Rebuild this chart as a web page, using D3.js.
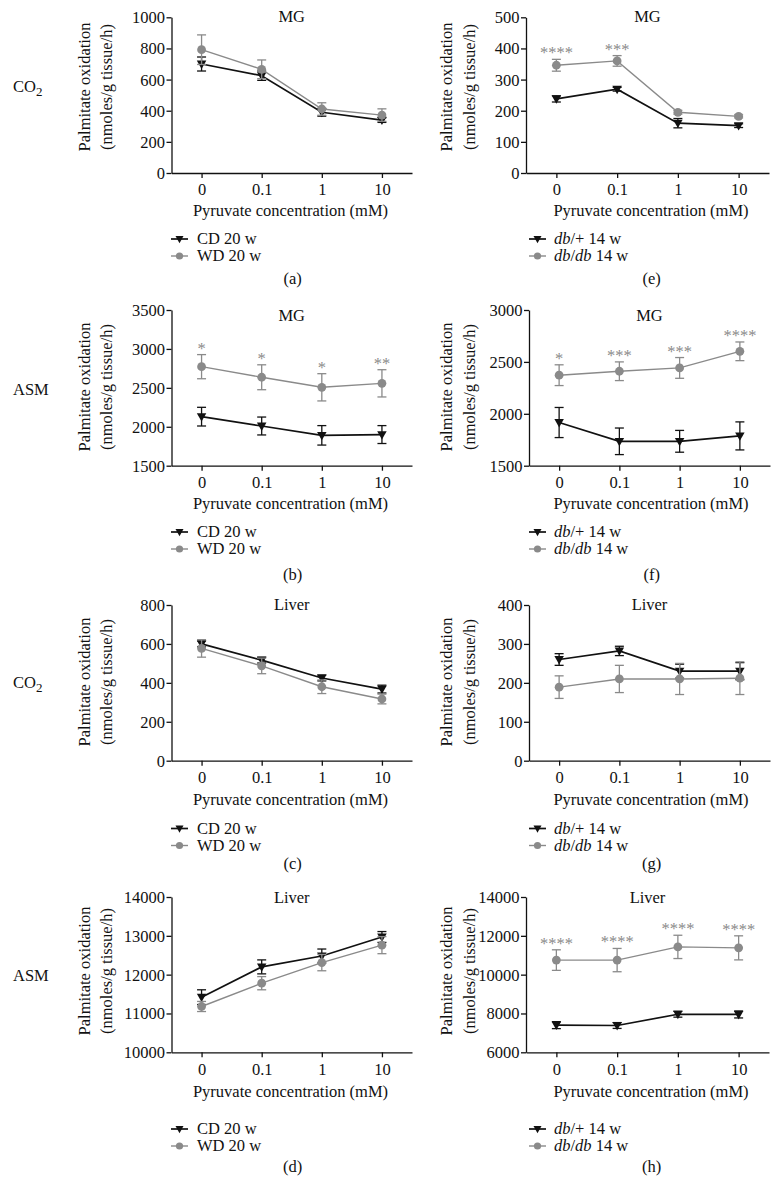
<!DOCTYPE html>
<html><head><meta charset="utf-8">
<script src="https://cdn.jsdelivr.net/npm/d3@7"></script>
<style>
body{margin:0;background:#fff}
svg{display:block}
text{font-family:"Liberation Serif","Times New Roman",serif;fill:#111}
</style>
</head><body>
<svg id="c" width="780" height="1184"></svg>
<script>
// ---------- DATA ----------
const doses = ["0", "0.1", "1", "10"];

// (a) MG CO2, diet
const aCD = [700, 625, 390, 340];      const aCDErr = [45, 30, 25, 15];
const aWD = [792, 666, 411, 372];      const aWDErr = [95, 60, 40, 40];
// (b) MG ASM, diet
const bCD = [2130, 2010, 1890, 1900];  const bCDErr = [120, 115, 125, 115];
const bWD = [2772, 2636, 2507, 2558];  const bWDErr = [155, 160, 175, 175];
const bSig = ["*", "*", "*", "**"];
// (c) Liver CO2, diet
const cCD = [600, 517, 425, 368];      const cCDErr = [15, 15, 15, 20];
const cWD = [577, 487, 380, 317];      const cWDErr = [45, 40, 35, 25];
// (d) Liver ASM, diet
const dCD = [11420, 12200, 12480, 12970]; const dCDErr = [190, 180, 180, 140];
const dWD = [11180, 11780, 12310, 12760]; const dWDErr = [130, 170, 210, 220];
// (e) MG CO2, db
const eDbH = [238, 269, 160, 152];     const eDbHErr = [10, 6, 15, 6];
const eDbDb = [346, 360, 195, 182];    const eDbDbErr = [19, 17, 6, 5];
const eSig = ["****", "***", "", ""];
// (f) MG ASM, db
const fDbH = [1916, 1735, 1735, 1787]; const fDbHErr = [145, 128, 105, 135];
const fDbDb = [2372, 2410, 2442, 2602]; const fDbDbErr = [100, 90, 100, 90];
const fSig = ["*", "***", "***", "****"];
// (g) Liver CO2, db
const gDbH = [260, 282, 230, 230];     const gDbHErr = [15, 12, 18, 22];
const gDbDb = [189, 210, 210, 212];    const gDbDbErr = [29, 35, 40, 42];
// (h) Liver ASM, db
const hDbH = [7400, 7380, 7960, 7950]; const hDbHErr = [180, 150, 150, 180];
const hDbDb = [10750, 10750, 11430, 11380]; const hDbDbErr = [530, 600, 600, 620];
const hSig = ["****", "****", "****", "****"];

// tick values
const aTicks = [0, 200, 400, 600, 800, 1000];
const bTicks = [1500, 2000, 2500, 3000, 3500];
const cTicks = [0, 200, 400, 600, 800];
const dTicks = [10000, 11000, 12000, 13000, 14000];
const eTicks = [0, 100, 200, 300, 400, 500];
const fTicks = [1500, 2000, 2500, 3000];
const gTicks = [0, 100, 200, 300, 400];
const hTicks = [6000, 8000, 10000, 12000, 14000];

const tissues = ["MG", "MG", "Liver", "Liver"];
const rowLabels = ["CO2", "ASM", "CO2", "ASM"];
const dietNames = ["CD 20 w", "WD 20 w"];
const xTitle = "Pyruvate concentration (mM)";
const yTitle1 = "Palmitate oxidation";
const yTitle2 = "(nmoles/g tissue/h)";

// ---------- LAYOUT ----------
const FS = 16.5;
const BLACK = "#111", GRAY = "#8a8a8a";
const rows = [
  {top: 17.3, bot: 173,   yl: 87,  rl: 87,  title: 17,  tick: 189.5, xt: 211.5, lg: [239, 256],   lab: 279},
  {top: 310,  bot: 465.7, yl: 387, rl: 390, title: 315.5, tick: 483, xt: 504.5, lg: [532, 549], lab: 575},
  {top: 605,  bot: 760.7, yl: 682, rl: 683, title: 604.5, tick: 778, xt: 800,   lg: [828.5, 845.5], lab: 864},
  {top: 897,  bot: 1052.3, yl: 971, rl: 976, title: 898,  tick: 1070, xt: 1092, lg: [1129, 1146],  lab: 1167}
];
const cols = [
  {yl1: 85, yl2: 107, lgx: 171, lgt: 197, labx: 292.7, xtx: 290.5},
  {yl1: 447, yl2: 470, lgx: 529, lgt: 554, labx: 651.7, xtx: 651}
];

const panels = [
  {lab: "(a)", r: 0, c: 0, x0: 171.5, x1: 412, dom: [0, 1000], ticks: aTicks, s1: aCD, e1: aCDErr, s2: aWD, e2: aWDErr, sig: null, kind: "diet"},
  {lab: "(b)", r: 1, c: 0, x0: 171.5, x1: 412, dom: [1500, 3500], ticks: bTicks, s1: bCD, e1: bCDErr, s2: bWD, e2: bWDErr, sig: bSig, kind: "diet"},
  {lab: "(c)", r: 2, c: 0, x0: 171.5, x1: 412, dom: [0, 800], ticks: cTicks, s1: cCD, e1: cCDErr, s2: cWD, e2: cWDErr, sig: null, kind: "diet"},
  {lab: "(d)", r: 3, c: 0, x0: 171.5, x1: 412, dom: [10000, 14000], ticks: dTicks, s1: dCD, e1: dCDErr, s2: dWD, e2: dWDErr, sig: null, kind: "diet"},
  {lab: "(e)", r: 0, c: 1, x0: 526, x1: 769, dom: [0, 500], ticks: eTicks, s1: eDbH, e1: eDbHErr, s2: eDbDb, e2: eDbDbErr, sig: eSig, kind: "db"},
  {lab: "(f)", r: 1, c: 1, x0: 529, x1: 770, dom: [1500, 3000], ticks: fTicks, s1: fDbH, e1: fDbHErr, s2: fDbDb, e2: fDbDbErr, sig: fSig, kind: "db"},
  {lab: "(g)", r: 2, c: 1, x0: 529, x1: 770, dom: [0, 400], ticks: gTicks, s1: gDbH, e1: gDbHErr, s2: gDbDb, e2: gDbDbErr, sig: null, kind: "db"},
  {lab: "(h)", r: 3, c: 1, x0: 526, x1: 769, dom: [6000, 14000], ticks: hTicks, s1: hDbH, e1: hDbHErr, s2: hDbDb, e2: hDbDbErr, sig: hSig, kind: "db"}
];

const svg = d3.select("#c");
const tri = (w) => `M${-w/2},${-w*0.36}L${w/2},${-w*0.36}L0,${w*0.52}Z`;

function drawMarker(g, kind, cx, cy, small) {
  if (kind === 0) {
    g.append("path").attr("d", tri(small ? 8 : 9.5)).attr("transform", `translate(${cx},${cy})`).attr("fill", BLACK);
  } else {
    g.append("circle").attr("cx", cx).attr("cy", cy).attr("r", small ? 3.6 : 4.4).attr("fill", GRAY);
  }
}

// row labels
rows.forEach((r, i) => {
  const t = svg.append("text").attr("x", 13).attr("y", r.rl + FS * 0.33).attr("font-size", FS);
  if (rowLabels[i] === "CO2") {
    t.append("tspan").text("CO");
    t.append("tspan").attr("font-size", 13).attr("dy", 4).text("2");
  } else t.text(rowLabels[i]);
});

panels.forEach(p => {
  const R = rows[p.r], C = cols[p.c];
  const g = svg.append("g");
  const x = d3.scalePoint().domain(doses).range([p.x0, p.x1]).padding(0.5);
  const y = d3.scaleLinear().domain(p.dom).range([R.bot, R.top]);

  // axes
  const ya = g.append("g").attr("transform", `translate(${p.x0},0)`)
    .call(d3.axisLeft(y).tickValues(p.ticks).tickSize(5).tickSizeOuter(0).tickPadding(1.5).tickFormat(d3.format("d")));
  const xa = g.append("g").attr("transform", `translate(0,${R.bot})`)
    .call(d3.axisBottom(x).tickSize(5).tickSizeOuter(0));
  [ya, xa].forEach(a => {
    a.select(".domain").attr("stroke", BLACK).attr("stroke-width", 1.3);
    a.selectAll(".tick line").attr("stroke", BLACK).attr("stroke-width", 1.3);
    a.selectAll(".tick text").attr("font-family", '"Liberation Serif",serif').attr("font-size", FS).attr("fill", BLACK);
  });
  ya.selectAll(".tick text").attr("dy", "0.33em");
  xa.selectAll(".tick text").attr("dy", null).attr("y", R.tick - R.bot + FS * 0.33);

  // title
  g.append("text").attr("x", (p.x0 + p.x1) / 2).attr("y", R.title + FS * 0.33)
    .attr("text-anchor", "middle").attr("font-size", FS).text(tissues[p.r]);

  // y title
  g.append("text").attr("transform", `translate(${C.yl1 + FS * 0.33},${R.yl}) rotate(-90)`)
    .attr("text-anchor", "middle").attr("font-size", FS).text(yTitle1);
  g.append("text").attr("transform", `translate(${C.yl2 + FS * 0.30},${R.yl}) rotate(-90)`)
    .attr("text-anchor", "middle").attr("font-size", FS).text(yTitle2);

  // x title
  g.append("text").attr("x", C.xtx).attr("y", R.xt + FS * 0.3)
    .attr("text-anchor", "middle").attr("font-size", FS).text(xTitle);

  // series
  const series = [
    {v: p.s1, e: p.e1, color: BLACK, w: 1.7, k: 0},
    {v: p.s2, e: p.e2, color: GRAY, w: 1.4, k: 1}
  ];
  series.forEach(s => {
    const pts = doses.map((d, i) => ({d, v: s.v[i], e: s.e[i]}));
    g.append("path").datum(pts).attr("fill", "none").attr("stroke", s.color).attr("stroke-width", s.w)
      .attr("d", d3.line().x(q => x(q.d)).y(q => y(q.v)));
    pts.forEach(q => {
      const cx = x(q.d), yt = y(q.v + q.e), yb = y(q.v - q.e);
      g.append("line").attr("x1", cx).attr("x2", cx).attr("y1", yt).attr("y2", yb).attr("stroke", s.color).attr("stroke-width", 1.3);
      [yt, yb].forEach(yy => g.append("line").attr("x1", cx - 4.5).attr("x2", cx + 4.5).attr("y1", yy).attr("y2", yy)
        .attr("stroke", s.color).attr("stroke-width", 1.3));
    });
    pts.forEach(q => drawMarker(g, s.k, x(q.d), y(q.v), false));
  });

  // significance
  if (p.sig) {
    p.sig.forEach((s, i) => {
      if (!s) return;
      const top = Math.max(p.s1[i] + p.e1[i], p.s2[i] + p.e2[i]);
      g.append("text").attr("x", x(doses[i])).attr("y", y(top) - 1)
        .attr("text-anchor", "middle").attr("font-size", FS).style("fill", GRAY).text(s);
    });
  }

  // legend
  [0, 1].forEach(k => {
    const ly = R.lg[k];
    const col = k === 0 ? BLACK : GRAY;
    g.append("line").attr("x1", C.lgx).attr("x2", C.lgx + 17).attr("y1", ly).attr("y2", ly)
      .attr("stroke", col).attr("stroke-width", k === 0 ? 1.7 : 1.4);
    drawMarker(g, k, C.lgx + 8.5, ly, true);
    const t = g.append("text").attr("x", C.lgt).attr("y", ly + FS * 0.33).attr("font-size", FS);
    if (p.kind === "diet") t.text(dietNames[k]);
    else if (k === 0) {
      t.append("tspan").attr("font-style", "italic").text("db");
      t.append("tspan").text("/+ 14 w");
    } else {
      t.append("tspan").attr("font-style", "italic").text("db");
      t.append("tspan").text("/");
      t.append("tspan").attr("font-style", "italic").text("db");
      t.append("tspan").text(" 14 w");
    }
  });

  // panel label
  g.append("text").attr("x", C.labx).attr("y", R.lab + FS * 0.33).attr("text-anchor", "middle")
    .attr("font-size", FS).text(p.lab);
});
</script>
</body></html>
